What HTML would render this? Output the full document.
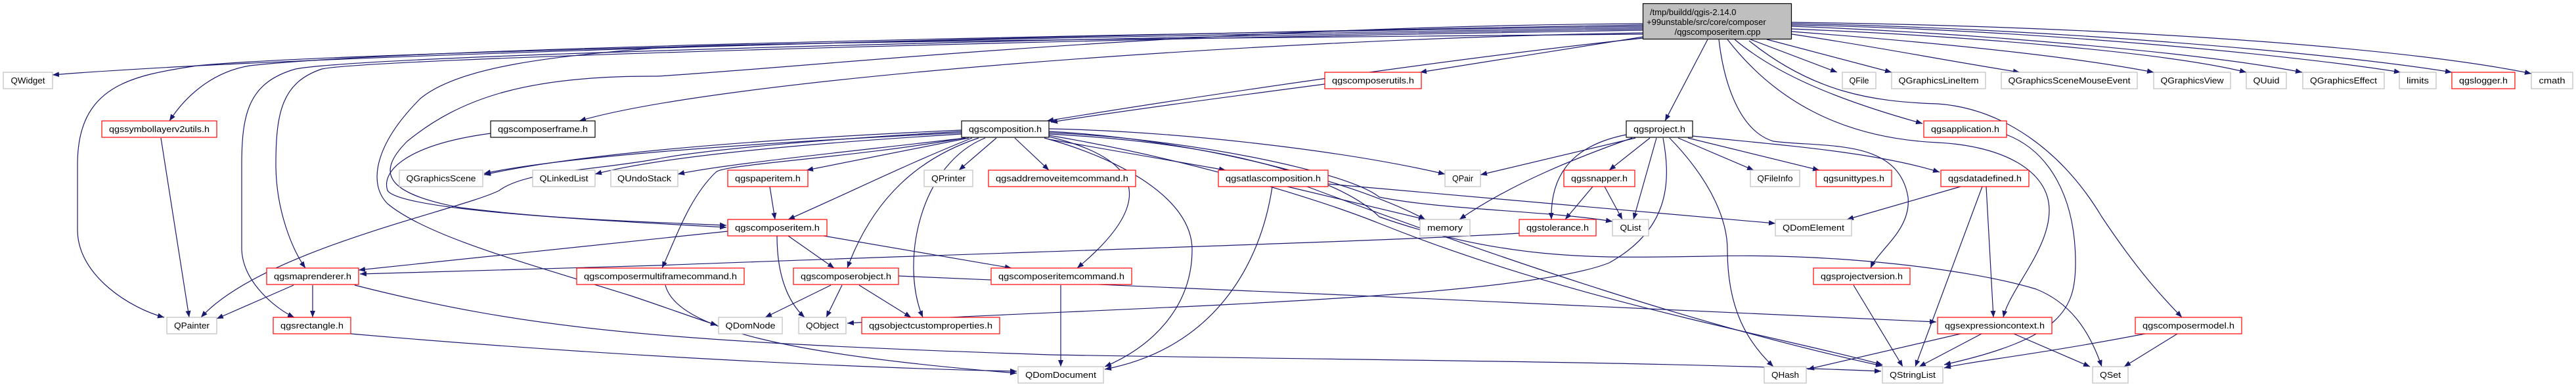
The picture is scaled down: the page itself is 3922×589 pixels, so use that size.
<!DOCTYPE html>
<html><head><meta charset="utf-8"><style>
html,body{margin:0;padding:0;background:#fff;}
svg{display:block;}
text{font-family:"Liberation Sans",sans-serif;font-size:13px;fill:#000;}
.e{fill:none;stroke:#191970;stroke-width:1.2;marker-end:url(#a);}
</style></head><body>
<svg width="3922" height="589" viewBox="0 0 3922 589" xmlns="http://www.w3.org/2000/svg">
<defs><marker id="a" markerWidth="11" markerHeight="8" refX="10" refY="4" orient="auto" markerUnits="userSpaceOnUse"><path d="M0,0 L10,4 L0,8 z" fill="#191970"/></marker></defs>
<g>
<!-- top node edges -->
<path class="e" d="M2502,38 C1800,50 500,80 80,114"/>
<path class="e" d="M2502,40 C1500,55 600,75 380,100 C320,110 280,150 258,184"/>
<path class="e" d="M2502,42 C1500,58 500,80 300,100 C200,115 118,130 118,250 L118,350 C118,420 200,470 250,483"/>
<path class="e" d="M2502,44 C1500,60 560,85 450,105 C380,125 368,170 368,250 L368,380 C370,430 420,470 448,483"/>
<path class="e" d="M2502,46 C1500,62 560,90 490,105 C430,125 420,170 420,250 C420,320 445,380 465,408"/>
<path class="e" d="M2502,50 C1900,60 1100,120 882,184"/>
<path class="e" d="M2502,36 C1800,40 1200,105 1000,116 C800,115 700,150 620,215 C570,265 590,295 701,316 C850,335 1000,338 1106,343"/>
<path class="e" d="M2502,52 C1800,58 1100,65 1000,73 C850,85 700,100 640,150 C570,220 560,280 590,310 C650,360 800,400 960,450 C1020,470 1060,485 1092,495"/>
<path class="e" d="M2502,58 C2200,90 1800,150 1594,184"/>
<path class="e" d="M2017,128 C1850,150 1700,170 1600,186"/>
<path class="e" d="M2502,56 C2350,80 2250,95 2162,110"/>
<path class="e" d="M2600,60 L2535,184"/>
<path class="e" d="M2665,60 L2797,110"/>
<path class="e" d="M2690,60 L2880,110"/>
<path class="e" d="M2728,52 C2850,70 2950,90 3075,110"/>
<path class="e" d="M2728,48 C2950,65 3150,85 3279,110"/>
<path class="e" d="M2728,44 C3000,55 3300,80 3420,110"/>
<path class="e" d="M2728,40 C3000,50 3350,80 3505,110"/>
<path class="e" d="M2728,38 C3100,45 3500,85 3655,110"/>
<path class="e" d="M2728,36 C3100,42 3550,80 3733,110"/>
<path class="e" d="M2728,34 C3200,40 3650,70 3854,112"/>
<path class="e" d="M2641,60 C2700,110 2790,150 2927,188"/>
<path class="e" d="M2617,60 C2625,130 2650,200 2700,215 C2780,225 2890,210 2905,300 C2910,350 2860,380 2848,408"/>
<path class="e" d="M2630,60 C2700,150 2800,210 2950,217 C3050,222 3120,260 3120,320 C3120,380 3060,440 3050,483"/>
<path class="e" d="M2663,62 C2760,140 2850,155 2950,158 C3050,165 3140,230 3200,330 C3260,420 3300,460 3322,483"/>
<path class="e" d="M3055,205 C3120,230 3160,300 3160,400 C3160,470 3140,515 2960,555"/>
<!-- composition edges -->
<path class="e" d="M1464,198 C1200,210 900,230 737,266"/>
<path class="e" d="M1464,202 C1100,220 850,240 737,264"/>
<path class="e" d="M1464,204 C1200,220 1000,240 906,265"/>
<path class="e" d="M1470,210 C1300,230 1100,250 1032,265"/>
<path class="e" d="M1464,200 C1200,215 1050,232 1000,242 C900,260 800,260 760,290 C700,320 400,380 306,483"/>
<path class="e" d="M1468,210 C1300,240 1100,250 1090,262 C1050,300 1030,360 1008,408"/>
<path class="e" d="M1475,210 L1228,259"/>
<path class="e" d="M1480,210 C1380,250 1300,290 1200,334"/>
<path class="e" d="M1490,210 C1400,240 1330,300 1290,408"/>
<path class="e" d="M1500,210 C1400,250 1370,400 1405,483"/>
<path class="e" d="M1517,210 L1460,259"/>
<path class="e" d="M1545,210 L1597,259"/>
<path class="e" d="M1597,212 L1866,259"/>
<path class="e" d="M1597,208 C1730,240 1770,300 1640,408"/>
<path class="e" d="M1590,210 C1700,240 1815,300 1815,380 C1815,470 1750,530 1682,558"/>
<path class="e" d="M1597,196 C1800,200 2050,230 2200,265"/>
<path class="e" d="M1597,200 C1800,210 2050,270 2170,334"/>
<path class="e" d="M1597,202 C1800,210 2050,260 2100,300 C2200,320 2350,320 2455,337"/>
<path class="e" d="M1597,204 C1900,220 2050,280 2100,330 C2300,400 2450,392 2600,390 C2800,385 3000,410 3100,440 C3150,460 3180,500 3200,558"/>
<path class="e" d="M1597,206 C1800,240 2000,300 2100,340 C2400,460 2700,510 2866,555"/>
<!-- composeritem edges -->
<path class="e" d="M1108,352 L546,411"/>
<path class="e" d="M1200,359 L1270,408"/>
<path class="e" d="M1183,359 C1183,420 1200,460 1225,483"/>
<path class="e" d="M1254,359 L1540,408"/>
<path class="e" d="M1172,284 L1180,334"/>
<path class="e" d="M747,203 C620,220 580,260 590,290 C610,320 900,335 1106,346"/>
<!-- composerobject -->
<path class="e" d="M1265,434 L1165,483"/>
<path class="e" d="M1282,434 L1258,483"/>
<path class="e" d="M1308,434 L1387,483"/>
<path class="e" d="M1368,420 C1800,440 2600,470 2948,490"/>
<path class="e" d="M1615,434 L1615,558"/>
<path class="e" d="M1013,434 C1030,500 1200,540 1548,568"/>
<path class="e" d="M534,508 C900,540 1300,560 1548,565"/>
<path class="e" d="M447,434 L330,485"/>
<path class="e" d="M476,434 L476,483"/>
<path class="e" d="M540,434 C800,500 1000,520 1600,540 C2200,550 2500,550 2864,565"/>
<path class="e" d="M245,210 L288,483"/>
<path class="e" d="M2313,355 C2100,368 1500,385 1000,404 L548,417"/>
<!-- atlas -->
<path class="e" d="M1937,284 C1920,400 1850,530 1682,562"/>
<path class="e" d="M1960,284 L2170,334"/>
<path class="e" d="M1990,284 C2300,400 2600,500 2866,557"/>
<path class="e" d="M2022,280 L2703,340"/>
<!-- qgsproject -->
<path class="e" d="M2490,210 L2254,266"/>
<path class="e" d="M2485,210 C2400,240 2300,280 2222,334"/>
<path class="e" d="M2512,210 L2450,259"/>
<path class="e" d="M2522,210 L2487,334"/>
<path class="e" d="M2476,205 C2400,220 2360,260 2362,334"/>
<path class="e" d="M2532,210 C2545,280 2540,350 2450,400 C2300,460 1600,470 1290,492"/>
<path class="e" d="M2542,210 C2610,280 2630,340 2630,380 C2630,470 2660,520 2700,558"/>
<path class="e" d="M2555,210 L2670,259"/>
<path class="e" d="M2570,210 L2770,259"/>
<path class="e" d="M2577,207 C2700,220 2850,230 2953,262"/>
<path class="e" d="M2425,284 L2383,334"/>
<path class="e" d="M2443,284 L2470,334"/>
<path class="e" d="M2985,284 L2812,334"/>
<path class="e" d="M3024,284 L3035,483"/>
<path class="e" d="M3018,284 L2916,558"/>
<path class="e" d="M2985,508 L2752,562"/>
<path class="e" d="M3017,508 L2922,558"/>
<path class="e" d="M3066,508 L3182,558"/>
<path class="e" d="M3266,508 C3100,540 3000,550 2960,560"/>
<path class="e" d="M3315,508 L3234,558"/>
<path class="e" d="M2822,434 L2897,558"/>
</g>
<!-- top node -->
<rect x="2501.5" y="5.5" width="226" height="54" fill="#bfbfbf" stroke="#000" stroke-width="1.2"/>
<text x="2512" y="23">/tmp/buildd/qgis-2.14.0</text>
<text x="2507" y="38">+99unstable/src/core/composer</text>
<text x="2615" y="53" text-anchor="middle">/qgscomposeritem.cpp</text>
<g id="nodes">
<!-- gray -->
<g stroke="#bfbfbf" fill="#fff" stroke-width="1.2">
<rect x="5" y="110" width="75" height="25"/>
<rect x="608" y="259" width="127" height="25"/>
<rect x="811" y="259" width="95" height="25"/>
<rect x="930" y="259" width="102" height="25"/>
<rect x="254" y="483" width="76" height="25"/>
<rect x="1407" y="259" width="74" height="25"/>
<rect x="1094" y="483" width="97" height="25"/>
<rect x="1216" y="483" width="72" height="25"/>
<rect x="1550" y="558" width="130" height="25"/>
<rect x="2805" y="110" width="51" height="25"/>
<rect x="2880" y="110" width="143" height="25"/>
<rect x="3047" y="110" width="207" height="25"/>
<rect x="3279" y="110" width="117" height="25"/>
<rect x="3420" y="110" width="61" height="25"/>
<rect x="3506" y="110" width="124" height="25"/>
<rect x="3653" y="110" width="56" height="25"/>
<rect x="3854" y="110" width="63" height="25"/>
<rect x="2200" y="259" width="54" height="25"/>
<rect x="2665" y="259" width="75" height="25"/>
<rect x="2162" y="334" width="76" height="25"/>
<rect x="2455" y="334" width="55" height="25"/>
<rect x="2703" y="334" width="116" height="25"/>
<rect x="2686" y="558" width="64" height="25"/>
<rect x="2866" y="558" width="92" height="25"/>
<rect x="3186" y="558" width="54" height="25"/>
</g>
<g stroke="#ff0000" fill="#fff" stroke-width="1.2">
<rect x="155" y="184" width="175" height="25"/>
<rect x="406" y="408" width="140" height="25"/>
<rect x="878" y="408" width="255" height="25"/>
<rect x="416" y="483" width="118" height="25"/>
<rect x="1108" y="259" width="122" height="25"/>
<rect x="1505" y="259" width="224" height="25"/>
<rect x="1855" y="259" width="167" height="25"/>
<rect x="1108" y="334" width="151" height="25"/>
<rect x="1208" y="408" width="160" height="25"/>
<rect x="1509" y="408" width="214" height="25"/>
<rect x="1312" y="483" width="210" height="25"/>
<rect x="2017" y="110" width="147" height="25"/>
<rect x="2929" y="184" width="126" height="25"/>
<rect x="2381" y="259" width="108" height="25"/>
<rect x="2765" y="259" width="115" height="25"/>
<rect x="2955" y="259" width="134" height="25"/>
<rect x="2313" y="334" width="117" height="25"/>
<rect x="2761" y="408" width="147" height="25"/>
<rect x="2950" y="483" width="174" height="25"/>
<rect x="3251" y="483" width="162" height="25"/>
<rect x="3733" y="110" width="96" height="25"/>
</g>
<g stroke="#000" fill="#fff" stroke-width="1.2">
<rect x="747" y="184" width="159" height="25"/>
<rect x="1464" y="184" width="133" height="25"/>
<rect x="2476" y="184" width="101" height="25"/>
</g>
</g>
<g text-anchor="middle" lengthAdjust="spacingAndGlyphs">
<text x="42.5" y="127" textLength="52" lengthAdjust="spacingAndGlyphs">QWidget</text>
<text x="671.5" y="276" textLength="106" lengthAdjust="spacingAndGlyphs">QGraphicsScene</text>
<text x="858.5" y="276" textLength="74" lengthAdjust="spacingAndGlyphs">QLinkedList</text>
<text x="981" y="276" textLength="82" lengthAdjust="spacingAndGlyphs">QUndoStack</text>
<text x="292" y="500" textLength="54" lengthAdjust="spacingAndGlyphs">QPainter</text>
<text x="1444" y="276" textLength="52" lengthAdjust="spacingAndGlyphs">QPrinter</text>
<text x="1142.5" y="500" textLength="76" lengthAdjust="spacingAndGlyphs">QDomNode</text>
<text x="1252" y="500" textLength="50" lengthAdjust="spacingAndGlyphs">QObject</text>
<text x="1615" y="575" textLength="108" lengthAdjust="spacingAndGlyphs">QDomDocument</text>
<text x="2830.5" y="127" textLength="30" lengthAdjust="spacingAndGlyphs">QFile</text>
<text x="2951.5" y="127" textLength="122" lengthAdjust="spacingAndGlyphs">QGraphicsLineItem</text>
<text x="3150.5" y="127" textLength="186" lengthAdjust="spacingAndGlyphs">QGraphicsSceneMouseEvent</text>
<text x="3337.5" y="127" textLength="96" lengthAdjust="spacingAndGlyphs">QGraphicsView</text>
<text x="3450.5" y="127" textLength="40" lengthAdjust="spacingAndGlyphs">QUuid</text>
<text x="3568" y="127" textLength="102" lengthAdjust="spacingAndGlyphs">QGraphicsEffect</text>
<text x="3681" y="127" textLength="34" lengthAdjust="spacingAndGlyphs">limits</text>
<text x="3885.5" y="127" textLength="40" lengthAdjust="spacingAndGlyphs">cmath</text>
<text x="2227" y="276" textLength="32" lengthAdjust="spacingAndGlyphs">QPair</text>
<text x="2702.5" y="276" textLength="54" lengthAdjust="spacingAndGlyphs">QFileInfo</text>
<text x="2200" y="351" textLength="54" lengthAdjust="spacingAndGlyphs">memory</text>
<text x="2482.5" y="351" textLength="32" lengthAdjust="spacingAndGlyphs">QList</text>
<text x="2761" y="351" textLength="94" lengthAdjust="spacingAndGlyphs">QDomElement</text>
<text x="2718" y="575" textLength="42" lengthAdjust="spacingAndGlyphs">QHash</text>
<text x="2912" y="575" textLength="70" lengthAdjust="spacingAndGlyphs">QStringList</text>
<text x="3213" y="575" textLength="32" lengthAdjust="spacingAndGlyphs">QSet</text>
<text x="242.5" y="201" textLength="153" lengthAdjust="spacingAndGlyphs">qgssymbollayerv2utils.h</text>
<text x="476" y="425" textLength="118" lengthAdjust="spacingAndGlyphs">qgsmaprenderer.h</text>
<text x="1005.5" y="425" textLength="233" lengthAdjust="spacingAndGlyphs">qgscomposermultiframecommand.h</text>
<text x="475" y="500" textLength="96" lengthAdjust="spacingAndGlyphs">qgsrectangle.h</text>
<text x="1169" y="276" textLength="100" lengthAdjust="spacingAndGlyphs">qgspaperitem.h</text>
<text x="1617" y="276" textLength="202" lengthAdjust="spacingAndGlyphs">qgsaddremoveitemcommand.h</text>
<text x="1938.5" y="276" textLength="145" lengthAdjust="spacingAndGlyphs">qgsatlascomposition.h</text>
<text x="1183.5" y="351" textLength="129" lengthAdjust="spacingAndGlyphs">qgscomposeritem.h</text>
<text x="1288" y="425" textLength="138" lengthAdjust="spacingAndGlyphs">qgscomposerobject.h</text>
<text x="1616" y="425" textLength="192" lengthAdjust="spacingAndGlyphs">qgscomposeritemcommand.h</text>
<text x="1417" y="500" textLength="188" lengthAdjust="spacingAndGlyphs">qgsobjectcustomproperties.h</text>
<text x="2090.5" y="127" textLength="125" lengthAdjust="spacingAndGlyphs">qgscomposerutils.h</text>
<text x="2992" y="201" textLength="104" lengthAdjust="spacingAndGlyphs">qgsapplication.h</text>
<text x="2435" y="276" textLength="86" lengthAdjust="spacingAndGlyphs">qgssnapper.h</text>
<text x="2822.5" y="276" textLength="93" lengthAdjust="spacingAndGlyphs">qgsunittypes.h</text>
<text x="3022" y="276" textLength="112" lengthAdjust="spacingAndGlyphs">qgsdatadefined.h</text>
<text x="2371.5" y="351" textLength="95" lengthAdjust="spacingAndGlyphs">qgstolerance.h</text>
<text x="2834.5" y="425" textLength="125" lengthAdjust="spacingAndGlyphs">qgsprojectversion.h</text>
<text x="3037" y="500" textLength="152" lengthAdjust="spacingAndGlyphs">qgsexpressioncontext.h</text>
<text x="3332" y="500" textLength="140" lengthAdjust="spacingAndGlyphs">qgscomposermodel.h</text>
<text x="3781" y="127" textLength="74" lengthAdjust="spacingAndGlyphs">qgslogger.h</text>
<text x="826.5" y="201" textLength="137" lengthAdjust="spacingAndGlyphs">qgscomposerframe.h</text>
<text x="1530.5" y="201" textLength="111" lengthAdjust="spacingAndGlyphs">qgscomposition.h</text>
<text x="2526.5" y="201" textLength="79" lengthAdjust="spacingAndGlyphs">qgsproject.h</text>
</g>
</svg>
</body></html>
